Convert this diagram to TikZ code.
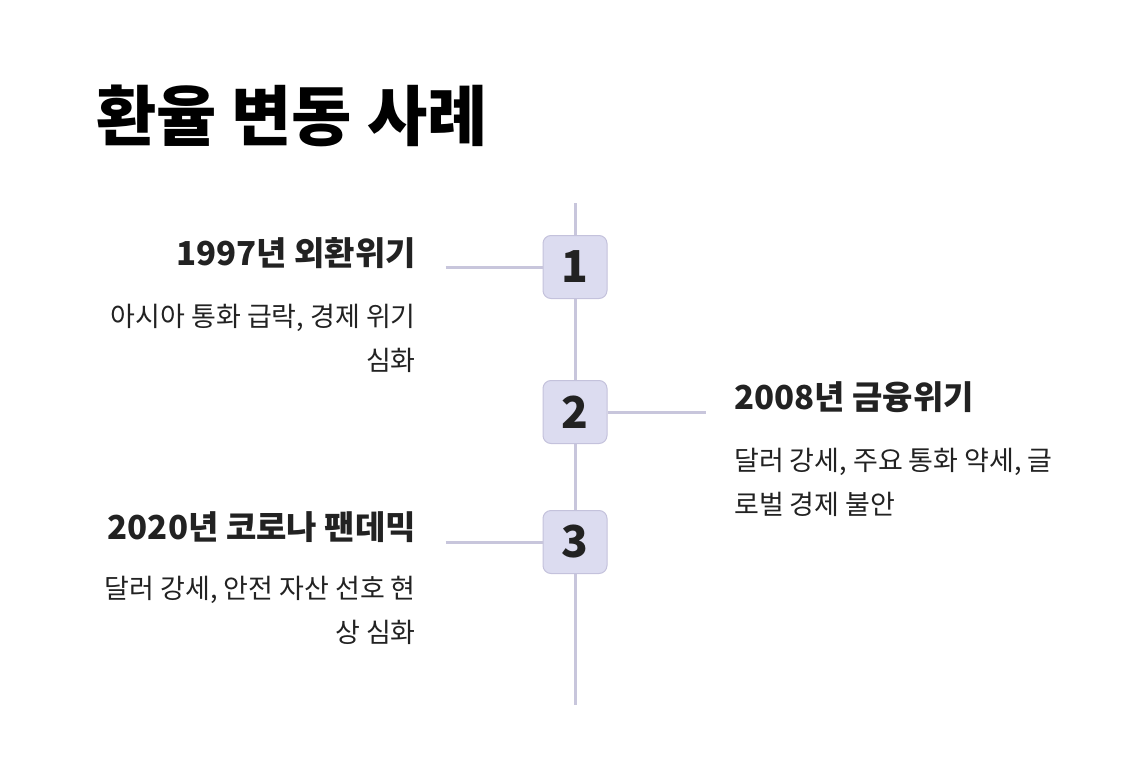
\documentclass[tikz,border=0pt]{standalone}
\usepackage{fontspec}
\setmainfont{Noto Sans CJK KR}
\usetikzlibrary{positioning}

\definecolor{axisline}{HTML}{C8C6DC}
\definecolor{boxfill}{HTML}{DCDCF0}
\definecolor{boxedge}{HTML}{C4C2DC}
\definecolor{ink}{HTML}{222222}

\begin{document}
\begin{tikzpicture}[
  x=1pt, y=-1pt,
  numbox/.style = {draw=boxedge, fill=boxfill, line width=1pt, rounded corners=8pt,
                   minimum width=64pt, minimum height=63pt, inner sep=0pt,
                   font=\fontsize{44}{44}\selectfont\bfseries, text=ink},
  evhead/.style = {inner sep=0pt, font=\fontsize{33}{36}\selectfont\bfseries, text=ink},
  evbody/.style = {inner sep=0pt, font=\fontsize{27}{44}\selectfont, text=ink},
  link/.style   = {draw=axisline, line width=3pt},
]
  \useasboundingbox (0,0) rectangle (1146,776);

%--- title ---
  \node[anchor=west, inner sep=0pt, font=\fontsize{65.5}{66}\selectfont\bfseries]
        (title) at (96,116) {환율 변동 사례};

%--- time axis ---
  \coordinate (axtop) at (575,203);
  \coordinate (axbot) at (575,705);
  \draw[link] (axtop) -- (axbot);

  \node[numbox]                       (box1) at (575,267) {1};
  \node[numbox, below=81pt of box1]   (box2) {2};
  \node[numbox, below=66pt of box2]   (box3) {3};

%--- events ---
  \coordinate[left=97pt of box1.west]  (lk1);
  \coordinate[right=98pt of box2.east] (lk2);
  \coordinate[left=97pt of box3.west]  (lk3);
  \draw[link] (lk1) -- (box1.west);
  \draw[link] (box2.east) -- (lk2);
  \draw[link] (lk3) -- (box3.west);

  \node[evhead, anchor=east] (head1) at (416,253) {1997년 외환위기};
  \node[evbody, anchor=north east, align=right] (body1) at (416,304)
        {아시아 통화 급락, 경제 위기\\심화};

  \node[evhead, anchor=west] (head2) at (734,397) {2008년 금융위기};
  \node[evbody, anchor=north west, align=left] (body2) at (734,448)
        {달러 강세, 주요 통화 약세, 글\\로벌 경제 불안};

  \node[evhead, anchor=east] (head3) at (416,527) {2020년 코로나 팬데믹};
  \node[evbody, anchor=north east, align=right] (body3) at (416,576)
        {달러 강세, 안전 자산 선호 현\\상 심화};
\end{tikzpicture}
\end{document}
